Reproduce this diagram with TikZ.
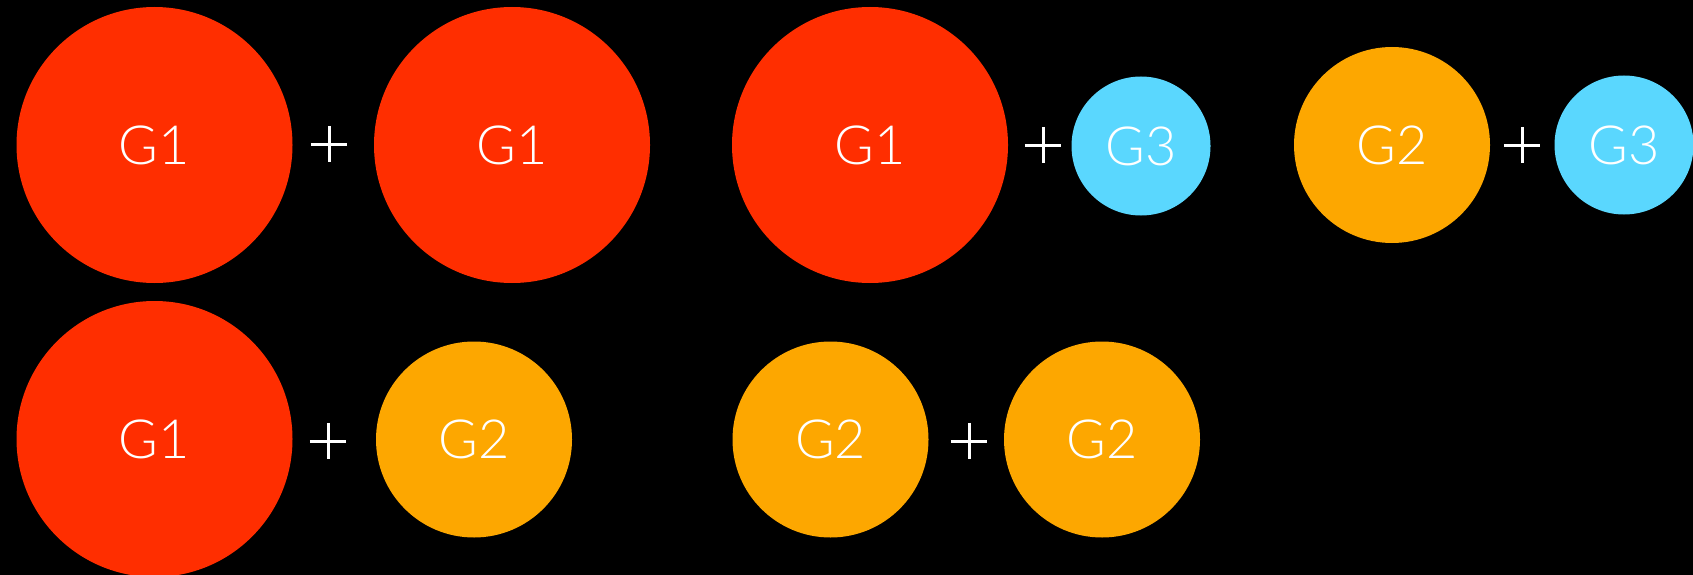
\documentclass[tikz,border=0pt]{standalone}
\usepackage{fontspec}
\setmainfont{Lato Light}
\definecolor{gred}{HTML}{FF2E00}
\definecolor{gorange}{HTML}{FDA700}
\definecolor{gcyan}{HTML}{5AD7FE}
\begin{document}
\begin{tikzpicture}[x=1pt,y=-1pt,
  ball/.style={circle,inner sep=0pt,text=white,font=\fontsize{54}{54}\selectfont},
  big/.style={ball,fill=gred,minimum size=276pt},
  mid/.style={ball,fill=gorange,minimum size=196pt},
  small/.style={ball,fill=gcyan,minimum size=139pt},
  plus/.style={rectangle,inner sep=0pt,minimum size=36pt},
  plusline/.style={white,line width=3pt}]
\fill[black] (0,0) rectangle (1693,575);
\useasboundingbox (0,0) rectangle (1693,575);
% row 1
\node[big] (a1) at (154.5,145) {G1};
\node[plus] (p1) at (329,144) {};
\node[big] (a2) at (512,145) {G1};
\node[big] (b1) at (870,145) {G1};
\node[plus] (p2) at (1043,145) {};
\node[small] (b2) at (1141,146) {G3};
\node[mid] (c1) at (1392,145) {G2};
\node[plus] (p3) at (1522,145) {};
\node[small] (c2) at (1624,145) {G3};
% row 2
\node[big] (d1) at (154.5,439) {G1};
\node[plus] (p4) at (328,441) {};
\node[mid] (d2) at (474,439.5) {G2};
\node[mid] (e1) at (830.5,439.5) {G2};
\node[plus] (p5) at (969,441) {};
\node[mid] (e2) at (1102,439.5) {G2};
\foreach \p in {p1,p2,p3,p4,p5}{
  \draw[plusline] (\p.north) -- (\p.south);
  \draw[plusline] (\p.west) -- (\p.east);
}
\end{tikzpicture}
\end{document}
